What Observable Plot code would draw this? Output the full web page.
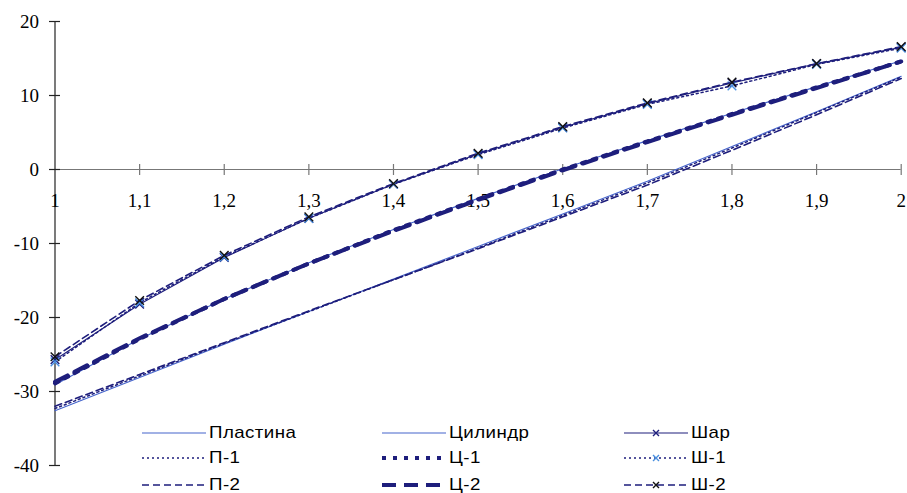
<!DOCTYPE html>
<html><head><meta charset="utf-8">
<script src="https://cdn.jsdelivr.net/npm/d3@7"></script>
<script src="https://cdn.jsdelivr.net/npm/@observablehq/plot@0.6"></script>
<style>
body{margin:0;background:#fff}
#wrap{position:relative;width:907px;height:493px}
#chart svg, #chart svg g, #chart svg text{font-family:"Times New Roman","Liberation Serif","DejaVu Serif",serif !important}
#legend{position:absolute;left:0;top:0;width:907px;height:493px;pointer-events:none;font-family:"Liberation Sans",Arial,sans-serif;font-size:17px;color:#000}
.item{position:absolute;display:flex;align-items:center;height:20px;white-space:nowrap}
.item svg{margin-right:3px}
.item span{display:inline-block;transform:scaleX(1.1);transform-origin:left center;letter-spacing:0.4px}
</style></head><body>
<div id="wrap"><div id="chart"></div><div id="legend"></div></div>
<script>
// ---- data ----
const xValues = [1, 1.1, 1.2, 1.3, 1.4, 1.5, 1.6, 1.7, 1.8, 1.9, 2];
const xTickLabels = ["1", "1,1", "1,2", "1,3", "1,4", "1,5", "1,6", "1,7", "1,8", "1,9", "2"];
const yTicks = [20, 10, 0, -10, -20, -30, -40];
const yTickLabels = ["20", "10", "0", "-10", "-20", "-30", "-40"];

const plastina = [-32.6, -28.1, -23.6, -19.2, -14.8, -10.4, -6.0, -1.6, 3.1, 7.8, 12.6];
const p1       = [-32.3, -27.9, -23.5, -19.2, -14.9, -10.6, -6.2, -1.8, 2.9, 7.7, 12.5];
const p2       = [-32.0, -27.7, -23.4, -19.1, -14.9, -10.7, -6.4, -2.1, 2.6, 7.4, 12.3];
const cilindr  = [-29.1, -22.9, -17.5, -12.6, -8.1, -3.9, 0.1, 3.9, 7.6, 11.2, 14.7];
const c1       = [-28.9, -22.9, -17.5, -12.7, -8.2, -4.0, 0.0, 3.8, 7.5, 11.1, 14.6];
const c2       = [-28.7, -22.8, -17.5, -12.7, -8.3, -4.1, -0.1, 3.7, 7.4, 11.0, 14.6];
const shar     = [-25.7, -18.2, -11.9, -6.6, -2.0, 2.1, 5.7, 8.9, 11.7, 14.3, 16.5];
const sh1      = [-26.0, -18.0, -11.8, -6.6, -2.0, 2.0, 5.6, 8.8, 11.3, 14.2, 16.4];
const sh2      = [-25.3, -17.7, -11.6, -6.4, -1.9, 2.2, 5.8, 9.0, 11.8, 14.3, 16.6];

const seriesNames = ["Пластина", "Цилиндр", "Шар", "П-1", "Ц-1", "Ш-1", "П-2", "Ц-2", "Ш-2"];
const seriesValues = [plastina, cilindr, shar, p1, c1, sh1, p2, c2, sh2];

// ---- styles ----
const NAVY = "#1e1e7c", LIGHT = "#4464cc", MLIGHT = "#4a90e0";
const styles = [
  {stroke: LIGHT, width: 1.1, dash: null},
  {stroke: LIGHT, width: 1.1, dash: null},
  {stroke: NAVY, width: 1.1, dash: null, marker: NAVY},
  {stroke: NAVY, width: 1.5, dash: "2,3"},
  {stroke: NAVY, width: 4, dash: "4,7"},
  {stroke: NAVY, width: 1.5, dash: "2,3", marker: MLIGHT},
  {stroke: NAVY, width: 1.6, dash: "7,4"},
  {stroke: NAVY, width: 4, dash: "14,8"},
  {stroke: NAVY, width: 1.6, dash: "7,4", marker: "#111"}
];

const SERIF = "Times New Roman, Liberation Serif, DejaVu Serif, serif";
const marks = [];
// axes
marks.push(Plot.ruleY([0], {x1: 1, x2: 2, stroke: "#777", strokeWidth: 1.2}));
marks.push(Plot.ruleX(xValues.slice(1), {x: d => d, y1: 0, y2: 0, insetTop: -5, insetBottom: -6, stroke: "#777", strokeWidth: 1.2}));
marks.push(Plot.ruleX([1], {stroke: "#222", strokeWidth: 1.2}));
marks.push(Plot.ruleY(yTicks, {y: d => d, x1: 1, x2: 1, insetLeft: -5.5, insetRight: -5.5, stroke: "#222", strokeWidth: 1.2}));
marks.push(Plot.text(yTicks, {x: 1, y: d => d, text: (d, i) => yTickLabels[i], dx: -16, textAnchor: "end", fontFamily: SERIF, fontSize: 19, fill: "#000"}));
marks.push(Plot.text(xValues, {x: d => d, y: 0, text: (d, i) => xTickLabels[i], dy: 31, fontFamily: SERIF, fontSize: 19, fill: "#000"}));

seriesValues.forEach((vals, k) => {
  const s = styles[k];
  const rows = xValues.map((x, i) => ({x, y: vals[i]}));
  marks.push(Plot.line(rows, {x: "x", y: "y", stroke: s.stroke, strokeWidth: s.width, strokeDasharray: s.dash || undefined}));
  if (s.marker) marks.push(Plot.dot(rows, {x: "x", y: "y", symbol: "times", r: 4, stroke: s.marker, strokeWidth: 1.4}));
});

const chart = Plot.plot({
  width: 907, height: 493,
  marginLeft: 54.5, marginRight: 6.3, marginTop: 21, marginBottom: 28,
  x: {domain: [1, 2], axis: null},
  y: {domain: [-40, 20], axis: null},
  style: {background: "#fff", overflow: "visible", fontFamily: SERIF},
  marks
});
document.getElementById("chart").appendChild(chart);

// ---- legend ----
const legend = document.getElementById("legend");
const colLeft = [142, 382, 624];
const rowMid = [433, 458, 485];
seriesNames.forEach((name, k) => {
  const s = styles[k];
  const div = document.createElement("div");
  div.className = "item";
  div.style.left = colLeft[k % 3] + "px";
  div.style.top = (rowMid[Math.floor(k / 3)] - 10) + "px";
  const ns = "http://www.w3.org/2000/svg";
  const svg = document.createElementNS(ns, "svg");
  svg.setAttribute("width", 64); svg.setAttribute("height", 12);
  const ln = document.createElementNS(ns, "line");
  ln.setAttribute("x1", 0); ln.setAttribute("x2", 64); ln.setAttribute("y1", 6); ln.setAttribute("y2", 6);
  ln.setAttribute("stroke", s.stroke); ln.setAttribute("stroke-width", s.width);
  if (s.dash) ln.setAttribute("stroke-dasharray", s.dash);
  svg.appendChild(ln);
  if (s.marker) {
    const p = document.createElementNS(ns, "path");
    p.setAttribute("d", "M29,3L35,9M35,3L29,9");
    p.setAttribute("stroke", s.marker); p.setAttribute("stroke-width", 1.4);
    svg.appendChild(p);
  }
  div.appendChild(svg);
  const t = document.createElement("span");
  t.textContent = name;
  div.appendChild(t);
  legend.appendChild(div);
});
</script>
</body></html>
